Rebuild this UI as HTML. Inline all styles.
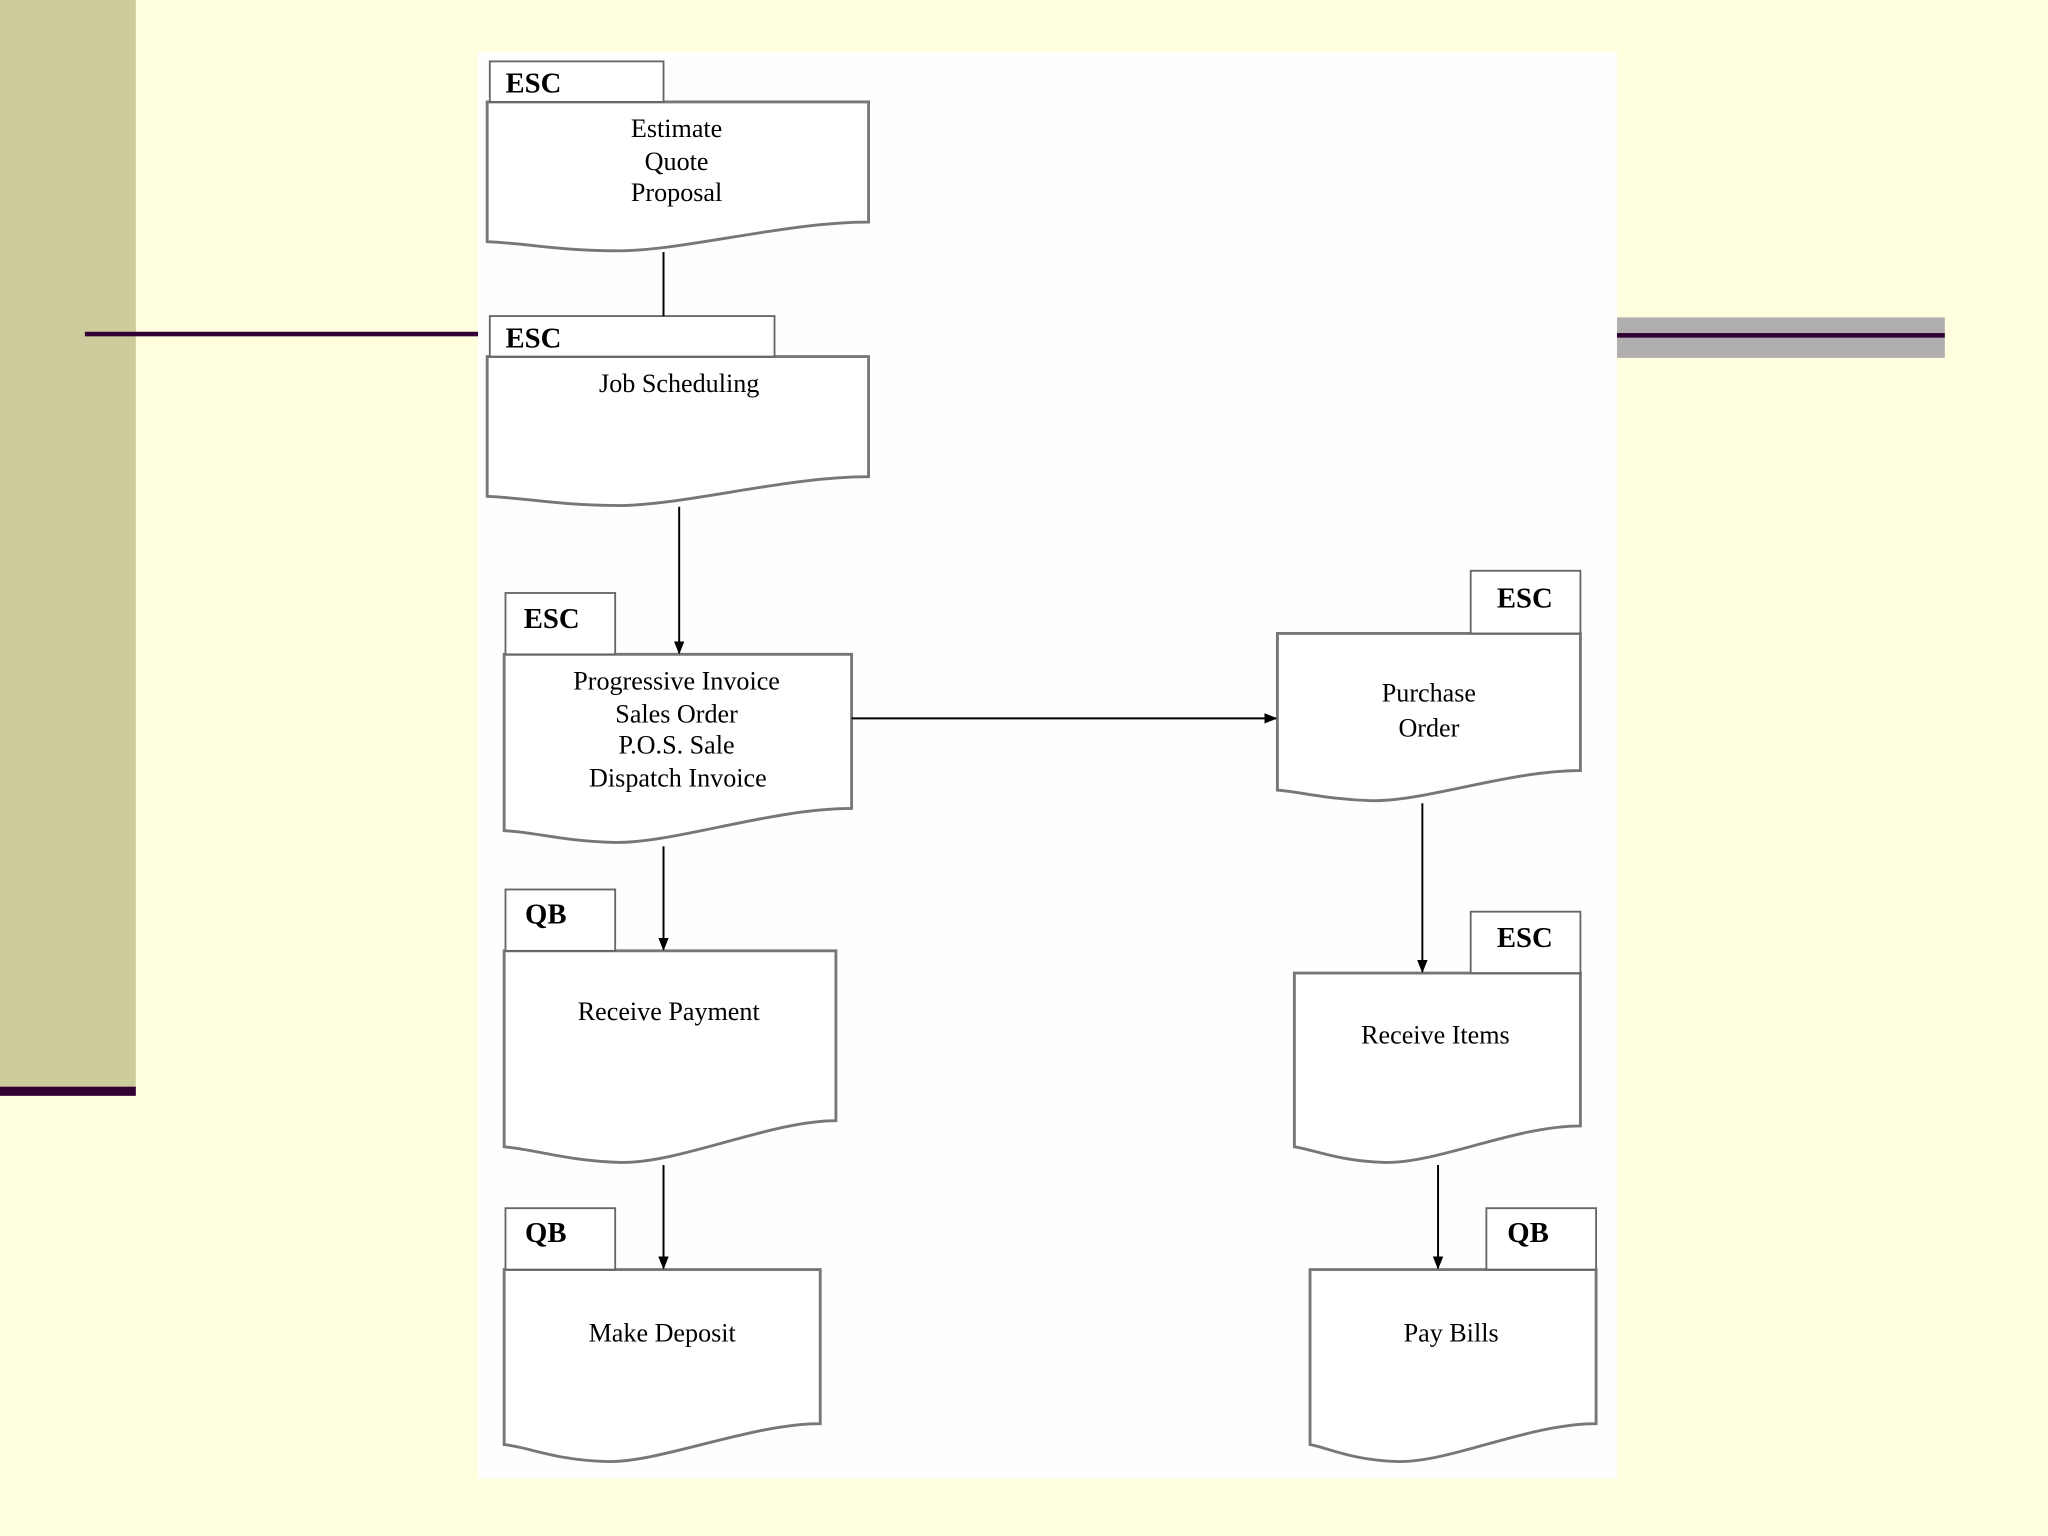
<!DOCTYPE html>
<html><head><meta charset="utf-8"><style>
html,body{margin:0;padding:0;background:#FFFFE0;}
svg{display:block}
text{font-family:"Liberation Serif",serif;}
.t{font-size:20px;text-anchor:middle;fill:#000}
.tab{font-size:22px;font-weight:bold;fill:#000}
</style></head><body>
<svg width="2048" height="1536" viewBox="0 0 1568 1176" xmlns="http://www.w3.org/2000/svg">
<defs>
<marker id="ar" markerWidth="10" markerHeight="10" refX="9" refY="5" orient="auto" markerUnits="userSpaceOnUse"><path d="M0,1 L10,5 L0,9 z" fill="#000"/></marker>
</defs>
<rect width="1568" height="1176" fill="#FFFFE0"/>
<rect x="0" y="0" width="104" height="834" fill="#CCCC9C"/>
<rect x="0" y="832" width="104" height="7" fill="#330033"/>
<rect x="1238" y="243" width="251" height="31" fill="#B0AEAE"/>
<rect x="1238" y="255" width="251" height="3.5" fill="#330033"/>
<rect x="65" y="254" width="302" height="3.5" fill="#330033"/>
<rect x="366" y="40" width="872" height="1092" fill="#FEFEFE"/>

<g fill="#fff" stroke="#777" stroke-width="2.2">
<!-- docs: M x1 top H x2 V yr C ... x1 yl Z -->
<path d="M373 78 H665 V170 C600 170 520 193 470 192 C430 192 400 186 373 185 Z"/>
<path d="M373 273 H665 V365 C600 365 520 388 470 387 C430 387 400 381 373 380 Z"/>
<path d="M386 501 H652 V619 C590 619 515 646 470 645 C430 644 410 637 386 636 Z"/>
<path d="M978 485 H1210 V590 C1155 590 1090 614 1050 613 C1015 612 995 606 978 605 Z"/>
<path d="M386 728 H640 V858 C590 858 520 891 475 890 C435 889 410 880 386 878 Z"/>
<path d="M991 745 H1210 V862 C1160 862 1100 891 1060 890 C1025 889 1005 880 991 878 Z"/>
<path d="M386 972 H628 V1090 C575 1090 505 1120 465 1119 C425 1118 405 1108 386 1106 Z"/>
<path d="M1003 972 H1222 V1090 C1170 1090 1110 1120 1070 1119 C1035 1118 1015 1108 1003 1106 Z"/>
</g>
<g fill="#fff" stroke="#666" stroke-width="1.4">
<rect x="375" y="47" width="133" height="31"/>
<rect x="375" y="242" width="218" height="31"/>
<rect x="387" y="454" width="84" height="47"/>
<rect x="1126" y="437" width="84" height="48"/>
<rect x="387" y="681" width="84" height="47"/>
<rect x="1126" y="698" width="84" height="47"/>
<rect x="387" y="925" width="84" height="47"/>
<rect x="1138" y="925" width="84" height="47"/>
</g>
<g class="tab">
<text x="387" y="71" class="tab">ESC</text>
<text x="387" y="266" class="tab">ESC</text>
<text x="401" y="481" class="tab">ESC</text>
<text x="1146" y="465" class="tab">ESC</text>
<text x="402" y="707" class="tab">QB</text>
<text x="1146" y="725" class="tab">ESC</text>
<text x="402" y="951" class="tab">QB</text>
<text x="1154" y="951" class="tab">QB</text>
</g>
<g class="t">
<text x="518" y="105" class="t">Estimate</text>
<text x="518" y="130" class="t">Quote</text>
<text x="518" y="154" class="t">Proposal</text>
<text x="520" y="300" class="t">Job Scheduling</text>
<text x="518" y="528" class="t">Progressive Invoice</text>
<text x="518" y="553" class="t">Sales Order</text>
<text x="518" y="577" class="t">P.O.S. Sale</text>
<text x="519" y="602" class="t">Dispatch Invoice</text>
<text x="1094" y="537" class="t">Purchase</text>
<text x="1094" y="564" class="t">Order</text>
<text x="512" y="781" class="t">Receive Payment</text>
<text x="1099" y="799" class="t">Receive Items</text>
<text x="507" y="1027" class="t">Make Deposit</text>
<text x="1111" y="1027" class="t">Pay Bills</text>
</g>
<g stroke="#000" stroke-width="1.5" fill="none">
<line x1="508" y1="193" x2="508" y2="242"/>
<line x1="520" y1="388" x2="520" y2="500" marker-end="url(#ar)"/>
<line x1="652" y1="550" x2="977" y2="550" marker-end="url(#ar)"/>
<line x1="508" y1="648" x2="508" y2="727" marker-end="url(#ar)"/>
<line x1="1089" y1="615" x2="1089" y2="744" marker-end="url(#ar)"/>
<line x1="508" y1="892" x2="508" y2="971" marker-end="url(#ar)"/>
<line x1="1101" y1="892" x2="1101" y2="971" marker-end="url(#ar)"/>
</g>
</svg>
</body></html>
